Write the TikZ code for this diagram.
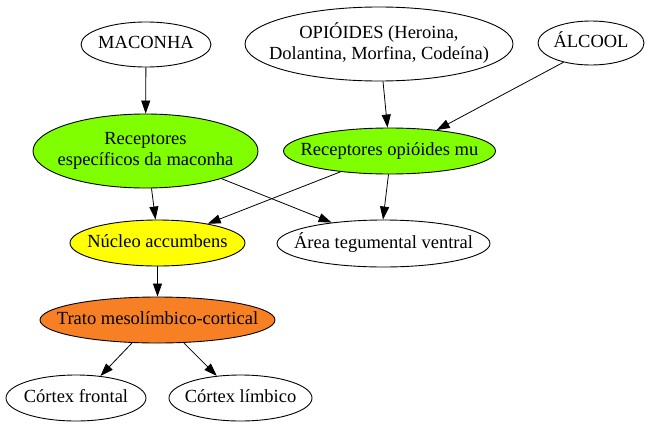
\documentclass[tikz,border=0pt]{standalone}
\usepackage{fontspec}
\setmainfont{Liberation Serif}
\usetikzlibrary{shapes.geometric,arrows.meta}
\definecolor{gvgreen}{RGB}{127,255,0}
\definecolor{gvyellow}{RGB}{255,255,0}
\definecolor{gvorange}{RGB}{247,127,36}
\newcommand\lbl[1]{\makebox[0pt]{\begin{tabular}{@{}c@{}}#1\end{tabular}}}
\tikzset{
  gv/.style={ellipse, draw, line width=0.9pt, inner sep=0pt},
  arr/.style={-{Triangle[length=13pt,width=9pt]}, line width=0.8pt}
}
\begin{document}
\begin{tikzpicture}[x=1pt,y=-1pt,font=\fontsize{18.5}{21}\selectfont]
\useasboundingbox[fill=white] (0,0) rectangle (652,426);
\node[gv, minimum width=130pt, minimum height=45pt] (mac) at (146,44.5) {\lbl{MACONHA}};
\node[gv, minimum width=268pt, minimum height=74pt] (op) at (379,44) {\lbl{OPIÓIDES (Heroina,\\Dolantina, Morfina, Codeína)}};
\node[gv, minimum width=106pt, minimum height=44pt] (alc) at (591,43) {\lbl{ÁLCOOL}};
\node[gv, fill=gvgreen, minimum width=225pt, minimum height=74pt] (rm) at (145.5,151) {\lbl{Receptores\\específicos da maconha}};
\node[gv, fill=gvgreen, minimum width=212pt, minimum height=46pt] (rmu) at (389.5,151) {\lbl{Receptores opióides mu}};
\node[gv, fill=gvyellow, minimum width=175pt, minimum height=46pt] (na) at (157.5,243) {\lbl{Núcleo accumbens}};
\node[gv, minimum width=213pt, minimum height=47pt] (ar) at (383.5,243.5) {\lbl{Área tegumental ventral}};
\node[gv, fill=gvorange, minimum width=235pt, minimum height=46pt] (tr) at (157.5,320) {\lbl{Trato mesolímbico-cortical}};
\node[gv, minimum width=140pt, minimum height=46pt] (cf) at (76,398) {\lbl{Córtex frontal}};
\node[gv, minimum width=143pt, minimum height=46pt] (cl) at (240.5,398) {\lbl{Córtex límbico}};
\draw[arr] (mac) -- (rm);
\draw[arr] ([xshift=4pt]op.south) -- ([xshift=-2pt]rmu.north);
\draw[arr] (alc.-145) -- (rmu.24);
\draw[arr] ([xshift=6pt]rm.south) -- ([xshift=-2pt]na.north);
\draw[arr] (rm.-20.6) -- (ar.158.8);
\draw[arr] (rmu.-157.8) -- (na.21);
\draw[arr] ([xshift=-1pt]rmu.south) -- ([xshift=-0.5pt]ar.north);
\draw[arr] (na) -- (tr);
\draw[arr] (tr.-138.6) -- (cf.42);
\draw[arr] (tr.-41.4) -- (cl.137.3);
\end{tikzpicture}
\end{document}
